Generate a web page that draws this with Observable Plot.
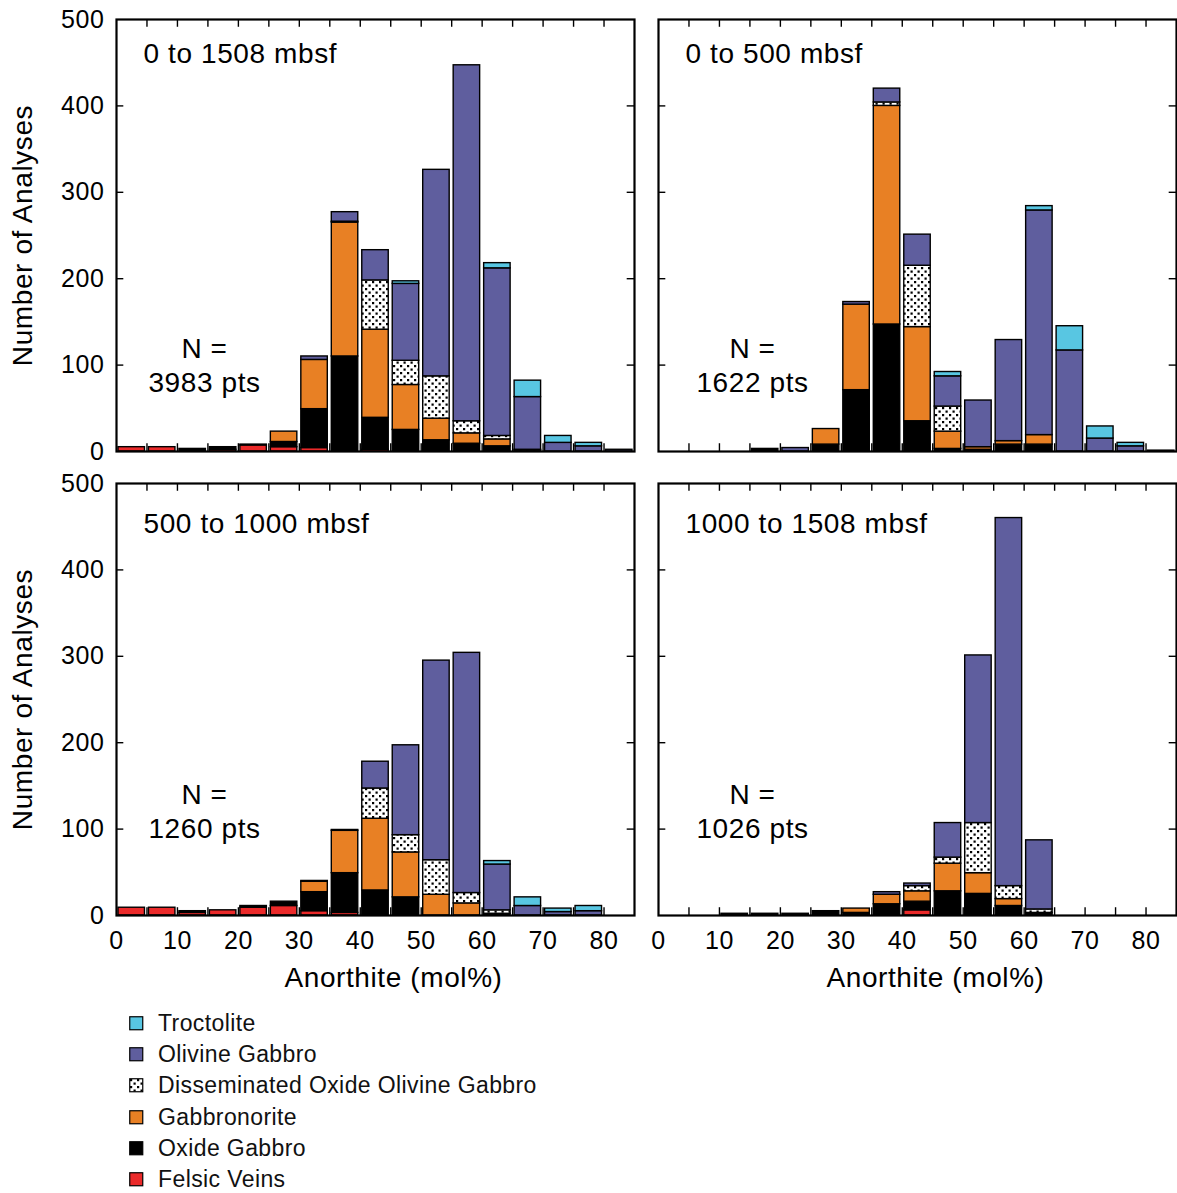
<!DOCTYPE html>
<html>
<head>
<meta charset="utf-8">
<script src="https://cdn.jsdelivr.net/npm/d3@7"></script>
<script src="https://cdn.jsdelivr.net/npm/@observablehq/plot@0.6"></script>
<style>
  html, body { margin: 0; padding: 0; background: #fff; overflow: hidden; }
  #figure { position: relative; width: 1177px; height: 1193px; font-family: "Liberation Sans", Arial, Helvetica, sans-serif; }
  .panel { position: absolute; }
  #legend { position: absolute; left: 129px; top: 1008px; }
  .row { display: flex; align-items: center; height: 31.2px; font-size: 23px; letter-spacing: 0.4px; color: #111; }
  .row svg { margin-right: 14px; flex: none; }
</style>
</head>
<body>
<svg width="0" height="0" style="position:absolute">
  <defs>
    <pattern id="disseminated-dots" width="7" height="7" patternUnits="userSpaceOnUse">
      <rect width="7" height="7" fill="#fff"/>
      <rect x="1" y="1" width="2.2" height="2.2" fill="#000"/>
      <rect x="4.5" y="4.5" width="2.2" height="2.2" fill="#000"/>
    </pattern>
  </defs>
</svg>
<div id="figure"></div>
<script>
// Anorthite bins (lower edge, mol%), 5 mol% wide
const binWidth = 5;
const bins = [0, 5, 10, 15, 20, 25, 30, 35, 40, 45, 50, 55, 60, 65, 70, 75, 80];

// Lithologies, stacked bottom to top
const rockTypes = ["Felsic Veins", "Oxide Gabbro", "Gabbronorite", "Disseminated Oxide Olivine Gabbro", "Olivine Gabbro", "Troctolite"];
const rockColors = ["#eb2a2a", "#000000", "#e88024", "url(#disseminated-dots)", "#5f5e9e", "#58c6e2"];

// Axis ticks
const yTickValues = [0, 100, 200, 300, 400, 500];
const xTickValues = [0, 10, 20, 30, 40, 50, 60, 70, 80];
const xMinorTicks = [5, 10, 15, 20, 25, 30, 35, 40, 45, 50, 55, 60, 65, 70, 75, 80];

// Counts per bin, one row per lithology (same order as rockTypes)
const counts0to1508 = [
  [5, 5, 0, 2, 7, 5, 4, 0, 2, 0, 0, 0, 0, 0, 0, 0, 0],
  [0, 0, 3, 3, 1, 6, 45, 110, 37, 25, 13, 9, 6, 1, 0, 0, 0],
  [0, 0, 0, 0, 0, 12, 57, 155, 102, 52, 25, 12, 8, 0, 0, 0, 0],
  [0, 0, 0, 0, 0, 0, 0, 1, 57, 28, 49, 14, 4, 1, 0, 0, 0],
  [0, 0, 0, 0, 0, 0, 4, 11, 35, 89, 239, 412, 194, 61, 10, 6, 2],
  [0, 0, 0, 0, 0, 0, 0, 0, 0, 3, 0, 0, 6, 19, 8, 4, 0]
];
const counts0to500 = [
  [0, 0, 0, 0, 0, 0, 0, 0, 0, 0, 0, 0, 0, 0, 0, 0, 0],
  [0, 0, 0, 3, 0, 8, 71, 147, 35, 3, 2, 8, 8, 0, 0, 0, 0],
  [0, 0, 0, 0, 0, 18, 99, 253, 109, 20, 3, 4, 11, 0, 0, 0, 0],
  [0, 0, 0, 0, 0, 0, 0, 4, 71, 29, 0, 0, 0, 0, 0, 0, 0],
  [0, 0, 0, 0, 4, 0, 3, 16, 36, 35, 54, 117, 260, 117, 15, 6, 1],
  [0, 0, 0, 0, 0, 0, 0, 0, 0, 5, 0, 0, 5, 28, 14, 4, 0]
];
const counts500to1000 = [
  [9, 9, 3, 6, 9, 11, 5, 3, 0, 0, 0, 0, 0, 0, 0, 0, 0],
  [0, 0, 2, 0, 2, 5, 22, 46, 29, 21, 0, 0, 2, 0, 0, 0, 0],
  [0, 0, 0, 0, 0, 0, 12, 49, 83, 52, 24, 14, 0, 0, 0, 0, 0],
  [0, 0, 0, 0, 0, 0, 0, 1, 35, 20, 40, 12, 4, 0, 0, 0, 0],
  [0, 0, 0, 0, 0, 0, 1, 0, 31, 104, 231, 278, 53, 11, 4, 5, 0],
  [0, 0, 0, 0, 0, 0, 0, 0, 0, 0, 0, 0, 4, 10, 4, 6, 0]
];
const counts1000to1508 = [
  [0, 0, 0, 0, 0, 0, 0, 0, 6, 0, 0, 0, 0, 0, 0, 0, 0],
  [0, 0, 2, 2, 2, 5, 3, 13, 10, 28, 25, 11, 3, 0, 0, 0, 0],
  [0, 0, 0, 0, 0, 0, 5, 11, 12, 32, 24, 8, 0, 0, 0, 0, 0],
  [0, 0, 0, 0, 0, 0, 0, 0, 6, 7, 58, 15, 4, 0, 0, 0, 0],
  [0, 0, 0, 0, 0, 0, 0, 3, 3, 40, 194, 426, 80, 0, 0, 0, 0],
  [0, 0, 0, 0, 0, 0, 0, 0, 0, 0, 0, 0, 0, 0, 0, 0, 0]
];

// Depth intervals and analysis totals
const intervalLabels = ["0 to 1508 mbsf", "0 to 500 mbsf", "500 to 1000 mbsf", "1000 to 1508 mbsf"];
const analysisTotals = [3983, 1622, 1260, 1026];

const fontFamily = "'Liberation Sans', Arial, Helvetica, sans-serif";

function tidy(counts) {
  const rows = [];
  rockTypes.forEach((type, i) => {
    bins.forEach((bin, j) => {
      const count = counts[i][j];
      if (count > 0) rows.push({type, bin, end: bin + binWidth, count});
    });
  });
  return rows;
}

function panel({counts, title, total, left, top, width, height, margin, showY, showX, nY, nX}) {
  const marks = [
    // inward tick marks on all four sides
    Plot.ruleY(yTickValues.slice(1, -1), {y: d => d, x1: 0, x2: 1.2, stroke: "#000", strokeWidth: 1.4}),
    Plot.ruleY(yTickValues.slice(1, -1), {y: d => d, x1: 83.8, x2: 85, stroke: "#000", strokeWidth: 1.4}),
    Plot.ruleX(xMinorTicks, {x: d => d, y1: 0, y2: 9, stroke: "#000", strokeWidth: 1.4}),
    Plot.ruleX(xMinorTicks, {x: d => d, y1: 491, y2: 500, stroke: "#000", strokeWidth: 1.4}),
    Plot.rectY(tidy(counts), {
      x1: "bin", x2: "end", y: "count", fill: "type",
      stroke: "#000", strokeWidth: 1.4, insetLeft: 2, insetRight: 2
    }),
    Plot.frame({stroke: "#000", strokeWidth: 2.2}),
    Plot.text([title], {
      frameAnchor: "top-left", dx: 27, dy: nY.title, textAnchor: "start", lineAnchor: "middle",
      fontSize: 28, fill: "#000"
    }),
    Plot.text([`N =\n${total} pts`], {
      frameAnchor: "top-left", dx: nX, dy: nY.n, textAnchor: "middle", lineAnchor: "middle",
      lineHeight: 1.21, fontSize: 28, fill: "#000"
    })
  ];
  if (showY) {
    marks.push(
      Plot.axisY(yTickValues, {tickSize: 0, tickPadding: 12, fontSize: 25, label: null}),
      Plot.text(["Number of Analyses"], {
        frameAnchor: "left", dx: -93, rotate: -90, textAnchor: "middle", lineAnchor: "middle",
        fontSize: 28, fill: "#000"
      })
    );
  }
  if (showX) {
    marks.push(
      Plot.axisX(xTickValues, {tickSize: 0, tickPadding: 16, fontSize: 25, label: null}),
      Plot.text(["Anorthite (mol%)"], {
        frameAnchor: "bottom", dx: 18, dy: 63, textAnchor: "middle", lineAnchor: "middle",
        fontSize: 28, fill: "#000"
      })
    );
  }
  const svg = Plot.plot({
    width, height,
    marginLeft: margin[3], marginRight: margin[1], marginTop: margin[0], marginBottom: margin[2],
    x: {domain: [0, 85], axis: showX ? undefined : null},
    y: {domain: [0, 500], axis: showY ? undefined : null},
    color: {domain: rockTypes, range: rockColors},
    style: {fontFamily, fontSize: "24px", letterSpacing: "0.6px", color: "#000", background: "transparent", overflow: "visible"},
    marks
  });
  const holder = document.createElement("div");
  holder.className = "panel";
  holder.style.left = left + "px";
  holder.style.top = top + "px";
  holder.appendChild(svg);
  document.getElementById("figure").appendChild(holder);
}

// 2 x 2 grid of depth intervals
panel({counts: counts0to1508, title: intervalLabels[0], total: analysisTotals[0],
  left: 0, top: 0, width: 642, height: 463, margin: [19, 8, 12, 116],
  showY: true, showX: false, nY: {title: 35, n: 345}, nX: 88});
panel({counts: counts0to500, title: intervalLabels[1], total: analysisTotals[1],
  left: 640, top: 0, width: 537, height: 463, margin: [19, 1, 12, 18],
  showY: false, showX: false, nY: {title: 35, n: 345}, nX: 94});
panel({counts: counts500to1000, title: intervalLabels[2], total: analysisTotals[2],
  left: 0, top: 465, width: 642, height: 535, margin: [18, 8, 85, 116],
  showY: true, showX: true, nY: {title: 41, n: 327}, nX: 88});
panel({counts: counts1000to1508, title: intervalLabels[3], total: analysisTotals[3],
  left: 640, top: 465, width: 537, height: 535, margin: [18, 1, 85, 18],
  showY: false, showX: true, nY: {title: 41, n: 327}, nX: 94});

// Legend, listed top to bottom in reverse stacking order
const legend = d3.select("#figure").append("div").attr("id", "legend");
const legendRows = rockTypes.map((type, i) => ({type, color: rockColors[i]})).reverse();
const row = legend.selectAll(".row").data(legendRows).join("div").attr("class", "row");
const swatch = row.append("svg").attr("width", 15).attr("height", 15);
swatch.append("rect")
  .attr("x", 0.75).attr("y", 0.75).attr("width", 13).attr("height", 13)
  .attr("fill", d => d.color).attr("stroke", "#000").attr("stroke-width", 1.2);
row.append("span").text(d => d.type);
</script>
</body>
</html>
